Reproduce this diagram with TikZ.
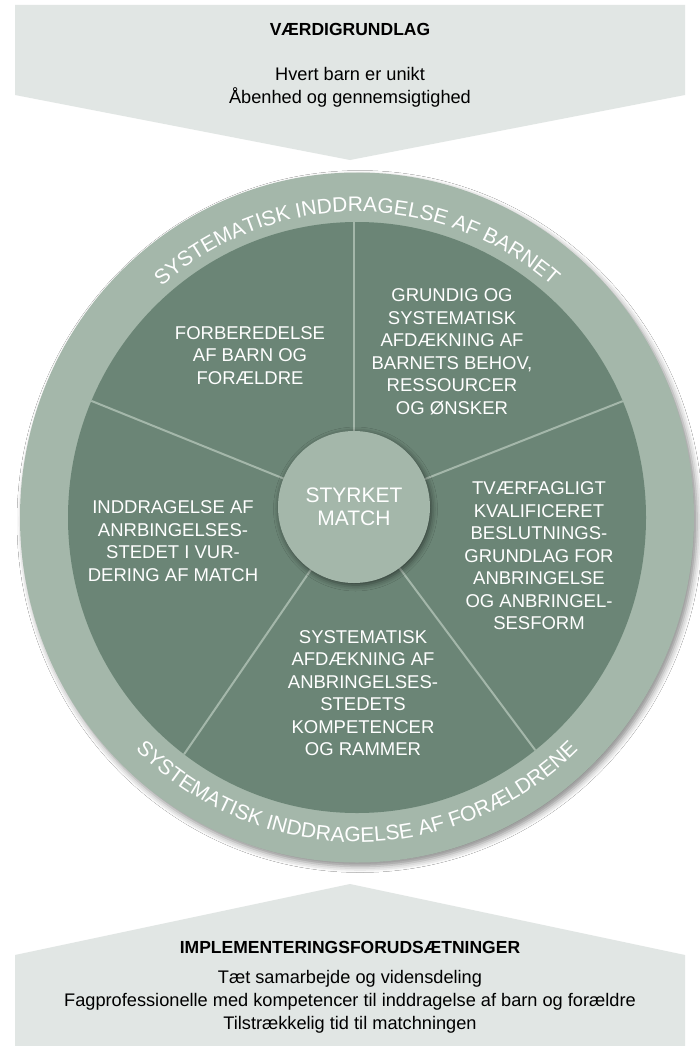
\documentclass[tikz,border=0pt]{standalone}
\usepackage{fontspec}
\setmainfont{Liberation Sans}
\usetikzlibrary{shapes.geometric,shadows.blur,decorations.text}
\definecolor{ringc}{HTML}{A4B7AA}
\definecolor{piec}{HTML}{6B8576}
\definecolor{chevc}{HTML}{E1E6E4}
\begin{document}
\begin{tikzpicture}[x=1pt,y=1pt,
  pietext/.style={text=white, align=center, font=\fontsize{18.5}{22.5}\selectfont, inner sep=0pt},
  chevtext/.style={text=black, align=center, font=\fontsize{18.2}{23}\selectfont, inner sep=0pt},
  chevhead/.style={text=black, font=\bfseries\fontsize{17.5}{22}\selectfont, inner sep=0pt},
  divider/.style={draw=ringc, line width=2pt},
  ringword/.style={decorate, decoration={text along path, text align=center, text color=#1,
     text={|\fontsize{21}{24}\selectfont|SYSTEMATISK INDDRAGELSE AF BARNET}}},
  ringwordb/.style={decorate, decoration={text along path, text align=center, text color=#1,
     text={|\fontsize{21}{24}\selectfont|SYSTEMATISK INDDRAGELSE AF FORÆLDRENE}}},
]
\useasboundingbox (0,0) rectangle (700,-1046);
\fill[white] (0,0) rectangle (700,-1046);

% chevrons
\fill[chevc] (15,-5) -- (685,-5) -- (685,-95) -- (350,-160) -- (15,-95) -- cycle;
\fill[chevc] (350,-884) -- (685,-955) -- (685,-1046) -- (15,-1046) -- (15,-955) -- cycle;

\node[chevhead] (vtitle) at (350,-29) {VÆRDIGRUNDLAG};
\node[chevtext] (vtext) at (350,-87) {Hvert barn er unikt\\Åbenhed og gennemsigtighed};
\node[chevhead] (ititle) at (350,-947) {IMPLEMENTERINGSFORUDSÆTNINGER};
\node[chevtext] (itext) at (350,-1002) {Tæt samarbejde og vidensdeling\\Fagprofessionelle med kompetencer til inddragelse af barn og forældre\\Tilstrækkelig tid til matchningen};

% ring and pie
\node[ellipse, minimum width=674, minimum height=690, inner sep=0pt, fill=ringc,
  blur shadow={shadow xshift=3pt, shadow yshift=-4pt, shadow blur radius=6pt, shadow opacity=45}] (ring) at (357,-517.5) {};
\node[ellipse, minimum width=578, minimum height=591, inner sep=0pt, fill=piec] (pie) at (357,-517.5) {};

\coordinate (hc) at (354,-507);
\path (hc) ++(90:420) coordinate (d1);
\path (hc) ++(21.5:420) coordinate (d2);
\path (hc) ++(158:420) coordinate (d3);
\path (hc) ++(235.5:420) coordinate (d4);
\path (hc) ++(306.7:420) coordinate (d5);
\begin{scope}
  \clip (357,-517.5) ellipse [x radius=289, y radius=295.5];
  \draw[divider] (hc) -- (d1);
  \draw[divider] (hc) -- (d2);
  \draw[divider] (hc) -- (d3);
  \draw[divider] (hc) -- (d4);
  \draw[divider] (hc) -- (d5);
\end{scope}

\node[circle, minimum size=152, inner sep=0pt, fill=ringc,
  blur shadow={shadow xshift=1.5pt, shadow yshift=-2pt, shadow blur radius=6pt, shadow opacity=55},
  text=white, align=center, font=\fontsize{21}{23}\selectfont] (hub) at (hc) {STYRKET\\MATCH};

% segment texts
\node[pietext] (s1) at (250,-355.5) {FORBEREDELSE\\AF BARN OG\\FORÆLDRE};
\node[pietext] (s2) at (452,-352) {GRUNDIG OG\\SYSTEMATISK\\AFDÆKNING AF\\BARNETS BEHOV,\\RESSOURCER\\OG ØNSKER};
\node[pietext] (s3) at (539,-556) {TVÆRFAGLIGT\\KVALIFICERET\\BESLUTNINGS-\\GRUNDLAG FOR\\ANBRINGELSE\\OG ANBRINGEL-\\SESFORM};
\node[pietext] (s4) at (363,-693) {SYSTEMATISK\\AFDÆKNING AF\\ANBRINGELSES-\\STEDETS\\KOMPETENCER\\OG RAMMER};
\node[pietext] (s5) at (173,-541) {INDDRAGELSE AF\\ANRBINGELSES-\\STEDET I VUR-\\DERING AF MATCH};

% ring texts
\path[ringword=white] ([shift={(357,-517.5)}]160:299 and 305.5) arc[start angle=160, end angle=20, x radius=299, y radius=305.5];
\path[ringwordb=white] ([shift={(357,-517.5)}]200:317 and 324.5) arc[start angle=200, end angle=340, x radius=317, y radius=324.5];
\end{tikzpicture}
\end{document}
